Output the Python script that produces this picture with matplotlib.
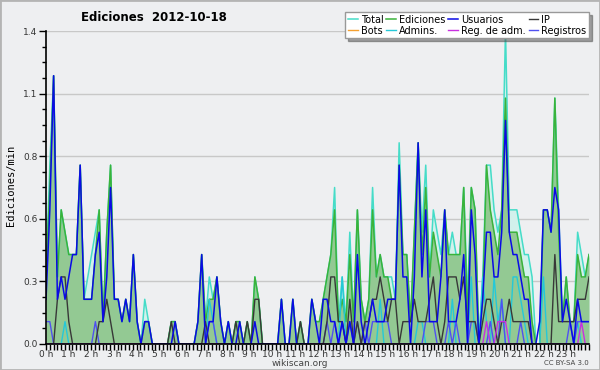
import numpy as np
import matplotlib.pyplot as plt
from matplotlib.ticker import MultipleLocator, FixedLocator

# edits per minute, 144 ten-minute slots spread over the day (6 per row)
total = [0.3, 0.8, 1.2, 0.3, 0.6, 0.5,  0.4, 0.4, 0.4, 0.8, 0.2, 0.3,
         0.4, 0.5, 0.6, 0.1, 0.5, 0.8,  0.2, 0.2, 0.1, 0.2, 0.1, 0.4,
         0.1, 0.0, 0.2, 0.1, 0.0, 0.0,  0.0, 0.0, 0.0, 0.1, 0.1, 0.0,
         0.0, 0.0, 0.0, 0.0, 0.1, 0.4,  0.1, 0.3, 0.2, 0.3, 0.1, 0.0,
         0.1, 0.0, 0.1, 0.1, 0.0, 0.1,  0.0, 0.3, 0.2, 0.0, 0.0, 0.0,
         0.0, 0.0, 0.2, 0.0, 0.0, 0.2,  0.0, 0.1, 0.0, 0.0, 0.2, 0.1,
         0.1, 0.2, 0.3, 0.4, 0.7, 0.1,  0.3, 0.1, 0.5, 0.1, 0.6, 0.2,
         0.1, 0.2, 0.7, 0.3, 0.4, 0.3,  0.3, 0.3, 0.2, 0.9, 0.4, 0.4,
         0.1, 0.5, 0.9, 0.5, 0.8, 0.3,  0.6, 0.5, 0.4, 0.6, 0.4, 0.5,
         0.4, 0.4, 0.7, 0.2, 0.7, 0.6,  0.0, 0.3, 0.8, 0.8, 0.6, 0.5,
         0.6, 1.4, 0.6, 0.6, 0.6, 0.5,  0.4, 0.4, 0.3, 0.0, 0.0, 0.6,
         0.6, 0.5, 1.1, 0.6, 0.1, 0.3,  0.1, 0.1, 0.5, 0.4, 0.3, 0.4]
ediciones = [0.3, 0.7, 1.2, 0.3, 0.6, 0.5,  0.4, 0.4, 0.4, 0.8, 0.2, 0.2,
             0.2, 0.4, 0.6, 0.1, 0.5, 0.8,  0.2, 0.2, 0.1, 0.2, 0.1, 0.4,
             0.1, 0.0, 0.1, 0.1, 0.0, 0.0,  0.0, 0.0, 0.0, 0.1, 0.1, 0.0,
             0.0, 0.0, 0.0, 0.0, 0.1, 0.4,  0.1, 0.2, 0.2, 0.3, 0.1, 0.0,
             0.1, 0.0, 0.1, 0.1, 0.0, 0.1,  0.0, 0.3, 0.2, 0.0, 0.0, 0.0,
             0.0, 0.0, 0.2, 0.0, 0.0, 0.2,  0.0, 0.1, 0.0, 0.0, 0.2, 0.1,
             0.1, 0.2, 0.3, 0.4, 0.6, 0.1,  0.2, 0.1, 0.4, 0.1, 0.6, 0.2,
             0.1, 0.2, 0.6, 0.3, 0.4, 0.3,  0.3, 0.2, 0.2, 0.8, 0.4, 0.4,
             0.1, 0.5, 0.9, 0.4, 0.7, 0.3,  0.5, 0.4, 0.3, 0.6, 0.4, 0.4,
             0.4, 0.4, 0.7, 0.1, 0.7, 0.6,  0.0, 0.2, 0.8, 0.6, 0.5, 0.4,
             0.6, 1.1, 0.5, 0.5, 0.5, 0.4,  0.3, 0.3, 0.1, 0.0, 0.0, 0.6,
             0.6, 0.5, 1.1, 0.5, 0.1, 0.3,  0.1, 0.1, 0.4, 0.3, 0.3, 0.4]
usuarios = [0.2, 0.6, 1.2, 0.2, 0.3, 0.2,  0.3, 0.4, 0.4, 0.8, 0.2, 0.2,
            0.2, 0.4, 0.5, 0.1, 0.3, 0.7,  0.2, 0.2, 0.1, 0.2, 0.1, 0.4,
            0.1, 0.0, 0.1, 0.1, 0.0, 0.0,  0.0, 0.0, 0.0, 0.0, 0.1, 0.0,
            0.0, 0.0, 0.0, 0.0, 0.1, 0.4,  0.0, 0.1, 0.1, 0.3, 0.1, 0.0,
            0.1, 0.0, 0.0, 0.1, 0.0, 0.0,  0.0, 0.1, 0.0, 0.0, 0.0, 0.0,
            0.0, 0.0, 0.2, 0.0, 0.0, 0.2,  0.0, 0.0, 0.0, 0.0, 0.2, 0.1,
            0.0, 0.2, 0.2, 0.1, 0.1, 0.0,  0.1, 0.0, 0.1, 0.0, 0.4, 0.1,
            0.0, 0.1, 0.2, 0.1, 0.1, 0.1,  0.2, 0.2, 0.2, 0.8, 0.3, 0.3,
            0.0, 0.3, 0.9, 0.3, 0.6, 0.1,  0.1, 0.1, 0.3, 0.6, 0.1, 0.1,
            0.1, 0.2, 0.4, 0.0, 0.6, 0.4,  0.0, 0.2, 0.5, 0.5, 0.3, 0.3,
            0.5, 1.0, 0.5, 0.4, 0.4, 0.3,  0.2, 0.2, 0.0, 0.0, 0.1, 0.6,
            0.6, 0.5, 0.7, 0.6, 0.1, 0.2,  0.1, 0.0, 0.2, 0.1, 0.1, 0.1]
ip = [0.0, 0.0, 0.0, 0.2, 0.3, 0.3,  0.1, 0.0, 0.0, 0.0, 0.0, 0.0,
      0.0, 0.0, 0.1, 0.1, 0.2, 0.1,  0.0, 0.0, 0.0, 0.0, 0.0, 0.0,
      0.0, 0.0, 0.0, 0.0, 0.0, 0.0,  0.0, 0.0, 0.0, 0.1, 0.0, 0.0,
      0.0, 0.0, 0.0, 0.0, 0.0, 0.0,  0.1, 0.0, 0.0, 0.0, 0.0, 0.0,
      0.0, 0.0, 0.1, 0.0, 0.0, 0.1,  0.0, 0.2, 0.2, 0.0, 0.0, 0.0,
      0.0, 0.0, 0.0, 0.0, 0.0, 0.0,  0.0, 0.1, 0.0, 0.0, 0.0, 0.0,
      0.0, 0.0, 0.1, 0.3, 0.3, 0.1,  0.1, 0.0, 0.2, 0.0, 0.1, 0.0,
      0.1, 0.1, 0.2, 0.2, 0.3, 0.2,  0.1, 0.2, 0.2, 0.0, 0.1, 0.1,
      0.1, 0.2, 0.1, 0.1, 0.1, 0.2,  0.3, 0.1, 0.0, 0.1, 0.3, 0.3,
      0.3, 0.2, 0.3, 0.1, 0.1, 0.1,  0.0, 0.1, 0.2, 0.2, 0.1, 0.0,
      0.1, 0.1, 0.2, 0.1, 0.1, 0.1,  0.1, 0.1, 0.0, 0.0, 0.0, 0.0,
      0.0, 0.0, 0.4, 0.1, 0.1, 0.1,  0.1, 0.1, 0.2, 0.2, 0.2, 0.3]
bots = [0.0] * 144
admins = [0.0, 0.0, 0.0, 0.0, 0.0, 0.1,  0.0, 0.0, 0.0, 0.0, 0.0, 0.0,
          0.0, 0.0, 0.0, 0.0, 0.0, 0.0,  0.0, 0.0, 0.0, 0.0, 0.0, 0.0,
          0.0, 0.0, 0.0, 0.0, 0.0, 0.0,  0.0, 0.0, 0.0, 0.0, 0.0, 0.0,
          0.0, 0.0, 0.0, 0.0, 0.0, 0.0,  0.0, 0.2, 0.1, 0.0, 0.0, 0.0,
          0.0, 0.0, 0.0, 0.0, 0.0, 0.0,  0.0, 0.0, 0.0, 0.0, 0.0, 0.0,
          0.0, 0.0, 0.0, 0.0, 0.0, 0.0,  0.0, 0.0, 0.0, 0.0, 0.0, 0.0,
          0.0, 0.0, 0.0, 0.0, 0.0, 0.0,  0.3, 0.0, 0.0, 0.0, 0.0, 0.0,
          0.0, 0.0, 0.0, 0.0, 0.2, 0.0,  0.0, 0.0, 0.0, 0.0, 0.0, 0.0,
          0.0, 0.0, 0.1, 0.1, 0.0, 0.0,  0.0, 0.0, 0.0, 0.0, 0.0, 0.2,
          0.0, 0.0, 0.0, 0.0, 0.3, 0.0,  0.0, 0.3, 0.1, 0.0, 0.3, 0.1,
          0.2, 0.0, 0.0, 0.3, 0.3, 0.2,  0.1, 0.0, 0.0, 0.0, 0.0, 0.3,
          0.0, 0.0, 0.0, 0.0, 0.0, 0.0,  0.0, 0.0, 0.1, 0.0, 0.0, 0.0]
reg_adm = [0.0] * 114 + [0.0, 0.0, 0.1, 0.0, 0.0, 0.1,
                         0.1, 0.1, 0.0, 0.0, 0.0, 0.0] + [0.0] * 15 + [0.1, 0.0, 0.0]
registros = [0.1, 0.1, 0.0, 0.0, 0.0, 0.0,  0.0, 0.0, 0.0, 0.0, 0.0, 0.0,
             0.0, 0.1, 0.0, 0.0, 0.0, 0.0,  0.0, 0.0, 0.0, 0.0, 0.0, 0.0,
             0.0, 0.0, 0.0, 0.0, 0.0, 0.0,  0.0, 0.0, 0.0, 0.0, 0.0, 0.0,
             0.0, 0.0, 0.0, 0.0, 0.0, 0.0,  0.0, 0.1, 0.1, 0.0, 0.0, 0.0,
             0.0, 0.0, 0.0, 0.0, 0.0, 0.0,  0.0, 0.0, 0.0, 0.0, 0.0, 0.0,
             0.0, 0.0, 0.0, 0.0, 0.0, 0.0,  0.0, 0.0, 0.0, 0.0, 0.0, 0.0,
             0.0, 0.0, 0.1, 0.0, 0.1, 0.0,  0.1, 0.0, 0.1, 0.0, 0.1, 0.0,
             0.1, 0.0, 0.1, 0.1, 0.1, 0.1,  0.1, 0.0, 0.0, 0.0, 0.0, 0.0,
             0.0, 0.0, 0.0, 0.0, 0.1, 0.1,  0.1, 0.0, 0.0, 0.0, 0.1, 0.0,
             0.1, 0.0, 0.0, 0.0, 0.1, 0.1,  0.0, 0.0, 0.0, 0.1, 0.0, 0.0,
             0.2, 0.0, 0.0, 0.0, 0.0, 0.1,  0.0, 0.0, 0.0, 0.0, 0.0, 0.0,
             0.0, 0.0, 0.0, 0.0, 0.0, 0.0,  0.1, 0.0, 0.1, 0.1, 0.1, 0.1]

hour_labels = [f"{h} h" for h in range(24)]
hours = np.linspace(0, 24, len(total))

bg = '#eeeff1'
fig = plt.figure(figsize=(6, 3.7), dpi=100, facecolor=bg)
fig.patches.append(plt.Rectangle((0, 0), 1, 1, transform=fig.transFigure,
                                 fill=False, ec='#b4b4b4', lw=2))
ax = fig.add_axes([0.0767, 0.0703, 0.905, 0.8459], facecolor=bg)

# filled areas first, lines on top
ax.fill_between(hours, total, color='#d2f1ec', lw=0)
ax.fill_between(hours, ediciones, color='#93c993', lw=0)
ax.plot(hours, total, color='#45dcc8', lw=1.1, label='Total')
ax.plot(hours, ediciones, color='#3ab33a', lw=1.1, label='Ediciones')
ax.plot(hours, bots, color='#f5a030', lw=1, label='Bots', zorder=1)
ax.plot(hours, admins, color='#25c8d8', lw=1, label='Admins.')
ax.plot(hours, registros, color='#5050f0', lw=1, label='Registros')
ax.plot(hours, ip, color='#383838', lw=1, label='IP')
ax.plot(hours, reg_adm, color='#c830e0', lw=1, label='Reg. de adm.')
ax.plot(hours, usuarios, color='#0a0ae6', lw=1.1, label='Usuarios')

ax.set_xlim(0, 24)
ax.set_ylim(0, 1.4)
ax.yaxis.set_major_locator(MultipleLocator(0.28))
ax.yaxis.set_minor_locator(MultipleLocator(0.07))
ax.yaxis.set_major_formatter(plt.FuncFormatter(lambda v, p: f"{v:.1f}"))
ax.xaxis.set_major_locator(FixedLocator(range(24)))
ax.xaxis.set_minor_locator(MultipleLocator(1 / 6))
ax.set_xticklabels(hour_labels)
ax.tick_params(axis='x', which='both', direction='out', length=4, width=1,
               pad=0, labelsize=6.5, labelcolor='#333333')
ax.tick_params(axis='y', which='major', direction='out', length=5, width=1,
               pad=1, labelsize=6.5, labelcolor='#333333')
ax.tick_params(axis='y', which='minor', direction='out', length=3, width=1)
ax.grid(axis='y', color='#c8c8c8', lw=1)
ax.set_axisbelow(True)
for side in ['top', 'right']:
    ax.spines[side].set_visible(False)
ax.spines['left'].set_linewidth(1.2)
ax.spines['bottom'].set_linewidth(1.2)

fig.text(0.257, 0.954, 'Ediciones  2012-10-18', ha='center', va='center',
         fontsize=8.5, fontweight='bold')
fig.text(0.018, 0.5, 'Ediciones/min', rotation=90, ha='center', va='center',
         fontsize=7.5, family='DejaVu Sans Mono')
fig.text(0.5, 0.018, 'wikiscan.org', ha='center', va='center', fontsize=6.5,
         color='#444444')
fig.text(0.982, 0.018, 'CC BY-SA 3.0', ha='right', va='center', fontsize=5,
         color='#444444')

names = ['Total', 'Bots', 'Ediciones', 'Admins.', 'Usuarios', 'Reg. de adm.',
         'IP', 'Registros']
handles, labels = ax.get_legend_handles_labels()
lookup = dict(zip(labels, handles))
leg = fig.legend([lookup[n] for n in names], names, ncol=4, fontsize=7,
                 loc='upper right', bbox_to_anchor=(0.982, 0.968),
                 frameon=True, fancybox=False, shadow=True, borderpad=0.3,
                 labelspacing=0.08, handlelength=1.0, handletextpad=0.3,
                 columnspacing=0.3, borderaxespad=0)
leg.get_frame().set_edgecolor('#999999')
leg.get_frame().set_facecolor('white')

plt.savefig('out.png', dpi=100, facecolor=bg)
